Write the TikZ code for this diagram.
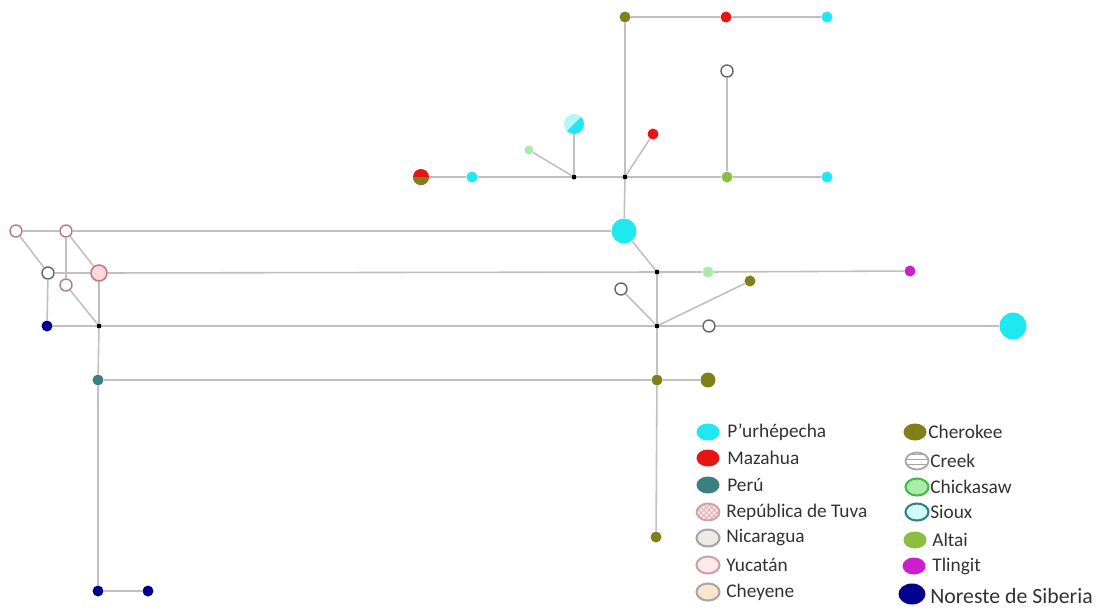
\documentclass[tikz,border=0pt]{standalone}
\usepackage{fontspec}
\setmainfont{Carlito}
\usepackage{tikz}
\usetikzlibrary{shapes.geometric,patterns}

\definecolor{purh}{RGB}{30,232,240}
\definecolor{mazahua}{RGB}{232,20,20}
\definecolor{peru}{RGB}{58,128,128}
\definecolor{cherokee}{RGB}{128,128,24}
\definecolor{altai}{RGB}{140,190,64}
\definecolor{tlingit}{RGB}{204,30,204}
\definecolor{siberia}{RGB}{0,0,140}
\definecolor{chick}{RGB}{170,235,170}
\definecolor{yuc}{RGB}{190,120,130}
\definecolor{edgegray}{RGB}{192,192,192}
\definecolor{txt}{RGB}{50,50,50}

\begin{document}
\begin{tikzpicture}[x=0.02cm,y=-0.02cm,
    dot/.style={circle,inner sep=0pt,minimum size=0.22cm},
    junc/.style={circle,fill=black,inner sep=0pt,minimum size=0.1cm},
    open/.style={circle,draw=gray!80!black,fill=white,line width=0.8pt,inner sep=0pt,minimum size=0.24cm},
    big/.style={circle,inner sep=0pt,minimum size=0.5cm},
    link/.style={draw=edgegray,line width=0.9pt},
    legmark/.style={ellipse,inner sep=0pt,minimum width=0.46cm,minimum height=0.34cm},
    lbl/.style={anchor=west,text=txt,font=\fontsize{11}{12}\selectfont,inner sep=0pt}]
  \useasboundingbox (0,0) rectangle (1100,613);

  % top group
  \node[dot,fill=cherokee] (ch1) at (625,17) {};
  \node[dot,fill=mazahua] (ma1) at (726,17) {};
  \node[dot,fill=purh] (pu1) at (827,17) {};
  \node[open] (ni1) at (727,71) {};
  \node[circle,inner sep=0pt,minimum size=0.32cm,fill=mazahua,
        path picture={\fill[cherokee] (path picture bounding box.west) rectangle (path picture bounding box.south east);}] (mx1) at (421,177) {};
  \node[dot,fill=purh] (pu2) at (472,177) {};
  \node[junc] (j1) at (574,177) {};
  \node[junc] (j2) at (625,177) {};
  \node[dot,fill=altai] (al1) at (727,177) {};
  \node[dot,fill=purh] (pu3) at (827,177) {};
  \node[dot,fill=chick,minimum size=0.18cm] (ck1) at (529,150) {};
  \node[circle,inner sep=0pt,minimum size=0.4cm,fill=purh!35,
        path picture={\fill[purh] (path picture bounding box.south west) -- (path picture bounding box.south east) -- (path picture bounding box.north east) -- cycle;}] (si1) at (574,124) {};
  \node[dot,fill=mazahua] (ma2) at (653,134) {};
  \node[big,fill=purh] (pu4) at (624,231) {};

  % left group
  \node[open,draw=yuc] (yu1) at (16,231) {};
  \node[open,draw=yuc] (yu2) at (66,231) {};
  \node[open] (ni2) at (48,273) {};
  \node[circle,inner sep=0pt,minimum size=0.32cm,draw=yuc,line width=0.9pt,fill=pink!60] (tu1) at (99,273) {};
  \node[open,draw=yuc] (yu3) at (66,285) {};
  \node[dot,fill=siberia] (sb1) at (47,326) {};
  \node[junc] (j4) at (99,326) {};
  \node[dot,fill=peru] (pe1) at (98,380) {};
  \node[dot,fill=siberia] (sb2) at (98,591) {};
  \node[dot,fill=siberia] (sb3) at (148,591) {};

  % middle group
  \node[junc] (j3) at (657,272) {};
  \node[dot,fill=chick] (ck2) at (708,272) {};
  \node[dot,fill=tlingit] (tl1) at (910,271) {};
  \node[open] (ni3) at (621,289) {};
  \node[dot,fill=cherokee] (ch2) at (750,281) {};
  \node[junc] (j5) at (657,326) {};
  \node[open] (ni4) at (709,326) {};
  \node[big,fill=purh,minimum size=0.54cm] (pu5) at (1013,326) {};
  \node[dot,fill=cherokee] (ch3) at (657,380) {};
  \node[dot,fill=cherokee,minimum size=0.3cm] (ch4) at (708,380) {};
  \node[dot,fill=cherokee] (ch5) at (656,537) {};

  % connectors
  \draw[link] (ch1) -- (ma1) -- (pu1);
  \draw[link] (ch1) -- (j2);
  \draw[link] (ni1) -- (al1);
  \draw[link] (mx1) -- (pu2) -- (j1) -- (j2) -- (al1) -- (pu3);
  \draw[link] (j1) -- (ck1);
  \draw[link] (j1) -- (si1);
  \draw[link] (j2) -- (ma2);
  \draw[link] (j2) -- (pu4);
  \draw[link] (yu1) -- (yu2) -- (pu4);
  \draw[link] (pu4) -- (j3);
  \draw[link] (ni2) -- (tu1) -- (j3) -- (ck2) -- (tl1);
  \draw[link] (yu1) -- (ni2);
  \draw[link] (yu2) -- (tu1);
  \draw[link] (yu2) -- (yu3) -- (j4);
  \draw[link] (ni2) -- (sb1);
  \draw[link] (tu1) -- (j4);
  \draw[link] (sb1) -- (j4) -- (j5) -- (ni4) -- (pu5);
  \draw[link] (j3) -- (j5);
  \draw[link] (j5) -- (ni3);
  \draw[link] (j5) -- (ch2);
  \draw[link] (j5) -- (ch3) -- (ch5);
  \draw[link] (j4) -- (pe1) -- (sb2) -- (sb3);
  \draw[link] (pe1) -- (ch3) -- (ch4);

  % legend
  \node[legmark,fill=purh] (lg1) at (708,432) {};
  \node[lbl] (lt1) at (727,432) {P’urhépecha};
  \node[legmark,fill=mazahua] (lg2) at (708,458) {};
  \node[lbl] (lt2) at (727,458) {Mazahua};
  \node[legmark,fill=peru] (lg3) at (708,485) {};
  \node[lbl] (lt3) at (727,485) {Perú};
  \node[legmark,draw=yuc!70,line width=1pt,preaction={fill=pink!40},pattern=crosshatch,pattern color=yuc!60] (lg4) at (708,512) {};
  \node[lbl] (lt4) at (726,512) {República de Tuva};
  \node[legmark,draw=gray!70,line width=1.2pt,fill=yellow!15!gray!20] (lg5) at (708,538) {};
  \node[lbl] (lt5) at (726,538) {Nicaragua};
  \node[legmark,draw=yuc!70,line width=1.2pt,fill=pink!35] (lg6) at (708,565) {};
  \node[lbl] (lt6) at (726,565) {Yucatán};
  \node[legmark,draw=gray!70,line width=1.2pt,fill=orange!20] (lg7) at (708,592) {};
  \node[lbl] (lt7) at (726,592) {Cheyene};

  \node[legmark,fill=cherokee] (lg8) at (915,432) {};
  \node[lbl] (lt8) at (928,432) {Cherokee};
  \node[legmark,draw=gray!70,line width=1pt,preaction={fill=white},pattern=horizontal lines,pattern color=gray!70] (lg9) at (917,461) {};
  \node[lbl] (lt9) at (930,461) {Creek};
  \node[legmark,draw=green!45!gray,line width=1.2pt,fill=chick] (lg10) at (917,487) {};
  \node[lbl] (lt10) at (930,487) {Chickasaw};
  \node[legmark,draw=teal!60!gray,line width=1.2pt,fill=purh!20] (lg11) at (917,512) {};
  \node[lbl] (lt11) at (930,512) {Sioux};
  \node[legmark,fill=altai] (lg12) at (915,540) {};
  \node[lbl] (lt12) at (932,540) {Altai};
  \node[legmark,fill=tlingit] (lg13) at (914,566) {};
  \node[lbl] (lt13) at (932,566) {Tlingit};
  \node[legmark,fill=siberia,minimum width=0.54cm,minimum height=0.42cm] (lg14) at (912,594) {};
  \node[lbl,font=\fontsize{12.4}{13}\selectfont] (lt14) at (930,596) {Noreste de Siberia};
\end{tikzpicture}
\end{document}
